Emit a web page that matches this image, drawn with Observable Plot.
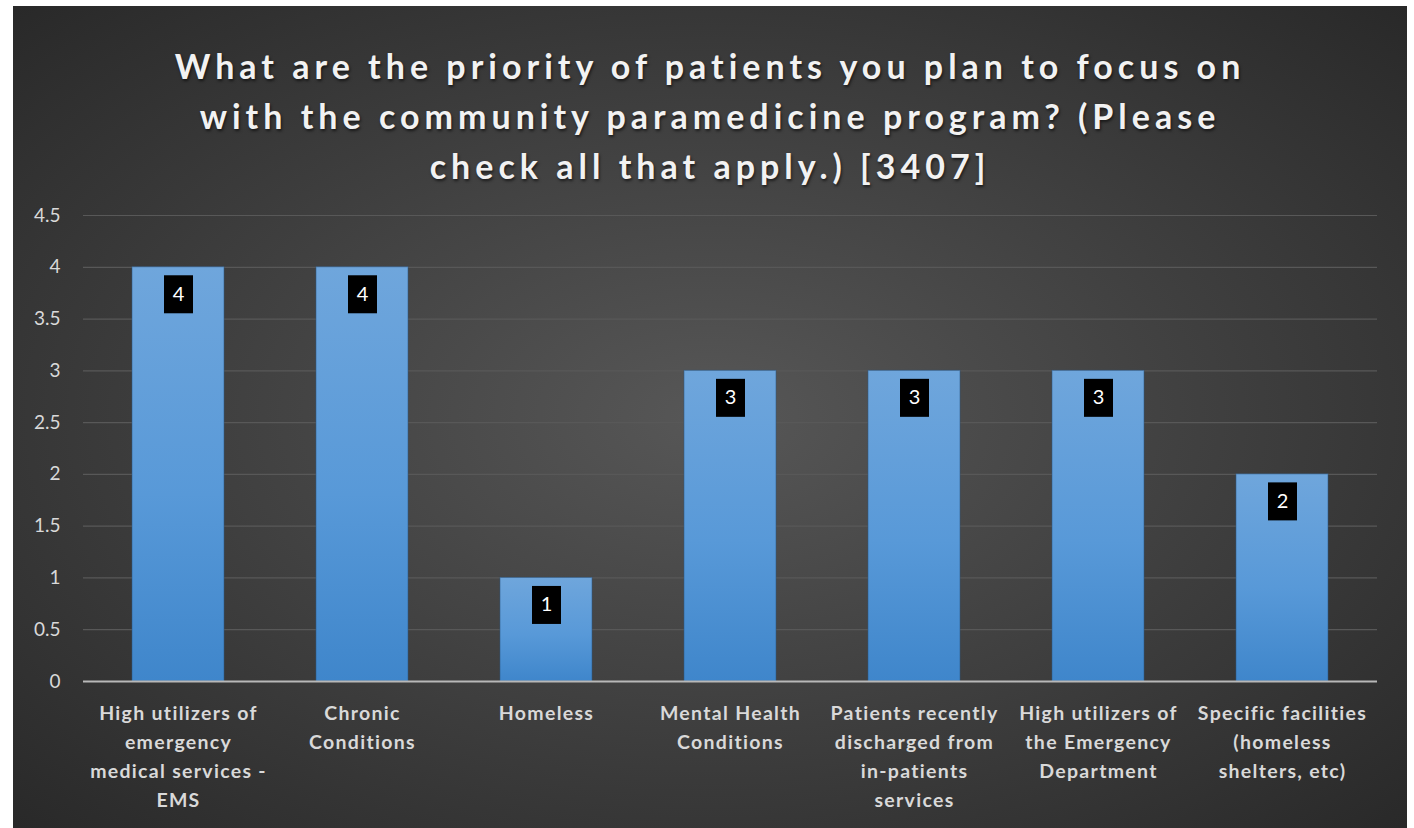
<!DOCTYPE html>
<html>
<head>
<meta charset="utf-8">
<script src="https://cdn.jsdelivr.net/npm/d3@7"></script>
<script src="https://cdn.jsdelivr.net/npm/@observablehq/plot@0.6"></script>
<style>
  html, body { margin: 0; padding: 0; background: #ffffff; }
  #wrap {
    position: absolute; left: 13px; top: 6px; width: 1394px; height: 822px;
    background: radial-gradient(ellipse 75% 75% at 50% 50%, #575757 0%, #3c3c3c 55%, #262626 100%);
    overflow: hidden;
  }
  #title {
    height: 194px; box-sizing: border-box; padding-top: 35px;
    text-align: center; color: #f2f2f2;
    font-family: Lato, "Open Sans", sans-serif; font-weight: 700;
    font-size: 34px; line-height: 50px; letter-spacing: 5px;
    text-shadow: 1px 2px 3px rgba(0,0,0,0.6);
  }
  svg { display: block; }
  svg g[aria-label="x-axis tick label"] text { letter-spacing: 1.3px; }
</style>
</head>
<body>
<div id="wrap">
  <div id="title">What are the priority of patients you plan to focus on<br>with the community paramedicine program? (Please<br>check all that apply.) [3407]</div>
  <div id="chart"></div>
</div>
<script>
const categories = [
  "High utilizers of emergency medical services - EMS",
  "Chronic Conditions",
  "Homeless",
  "Mental Health Conditions",
  "Patients recently discharged from in-patients services",
  "High utilizers of the Emergency Department",
  "Specific facilities (homeless shelters, etc)"
];
const categoryLabels = [
  "High utilizers of\nemergency\nmedical services -\nEMS",
  "Chronic\nConditions",
  "Homeless",
  "Mental Health\nConditions",
  "Patients recently\ndischarged from\nin-patients\nservices",
  "High utilizers of\nthe Emergency\nDepartment",
  "Specific facilities\n(homeless\nshelters, etc)"
];
const values = [4, 4, 1, 3, 3, 3, 2];
const yTicks = [0, 0.5, 1, 1.5, 2, 2.5, 3, 3.5, 4, 4.5];
const yTickLabels = ["0", "0.5", "1", "1.5", "2", "2.5", "3", "3.5", "4", "4.5"];

const data = categories.map((c, i) => ({category: c, value: values[i]}));
const labelOf = new Map(categories.map((c, i) => [c, categoryLabels[i]]));
const yLabelOf = new Map(yTicks.map((t, i) => [t, yTickLabels[i]]));

const NS = "http://www.w3.org/2000/svg";
function defsMark() {
  const defs = document.createElementNS(NS, "defs");
  const lg = document.createElementNS(NS, "linearGradient");
  lg.setAttribute("id", "barGrad");
  lg.setAttribute("x1", "0"); lg.setAttribute("y1", "0");
  lg.setAttribute("x2", "0"); lg.setAttribute("y2", "1");
  [["0%", "#6fa6dc"], ["55%", "#5899d8"], ["100%", "#3f86cb"]].forEach(([o, c]) => {
    const s = document.createElementNS(NS, "stop");
    s.setAttribute("offset", o); s.setAttribute("stop-color", c);
    lg.appendChild(s);
  });
  defs.appendChild(lg);
  return defs;
}

const chart = Plot.plot({
  width: 1394,
  height: 628,
  marginTop: 15,
  marginBottom: 147,
  marginLeft: 70,
  marginRight: 30,
  style: {background: "transparent", fontFamily: "Lato, 'Open Sans', sans-serif", overflow: "visible"},
  x: {domain: categories, paddingInner: 0.5, paddingOuter: 0.25, label: null},
  y: {domain: [0, 4.5], label: null},
  marks: [
    defsMark,
    Plot.ruleY(yTicks.filter(t => t > 0), {stroke: "#585858", strokeWidth: 1.2}),
    Plot.axisY({ticks: yTicks, tickSize: 0, tickPadding: 23, tickFormat: t => yLabelOf.get(t),
      fontSize: 19, fill: "#d9d9d9", label: null}),
    Plot.axisX({tickSize: 0, tickPadding: 18, tickFormat: c => labelOf.get(c),
      fontSize: 19.5, fontWeight: 700, fill: "#d9d9d9", lineHeight: 1.49, label: null}),
    Plot.barY(data, {x: "category", y: "value", fill: "url(#barGrad)", stroke: "#2d5a85", strokeOpacity: 0.55, strokeWidth: 1}),
    Plot.ruleY([0], {stroke: "#b8b8b8", strokeWidth: 2}),
    Plot.text(data, {
      x: "category", y: "value", text: d => String(d.value), dy: 27,
      fill: "#ffffff", fontSize: 20, fontFamily: "Lato, 'Open Sans', sans-serif",
      render(index, scales, vals, dims, ctx, next) {
        const g = next(index, scales, vals, dims, ctx);
        for (const i of index) {
          const cx = vals.x[i] ?? 0, cy = vals.y[i] ?? 0;
          const r = document.createElementNS(NS, "rect");
          r.setAttribute("x", cx - 14.5);
          r.setAttribute("y", cy - 19);
          r.setAttribute("width", 29);
          r.setAttribute("height", 38);
          r.setAttribute("fill", "#000000");
          g.insertBefore(r, g.firstChild);
        }
        return g;
      }
    })
  ]
});
document.getElementById("chart").appendChild(chart);
</script>
</body>
</html>
